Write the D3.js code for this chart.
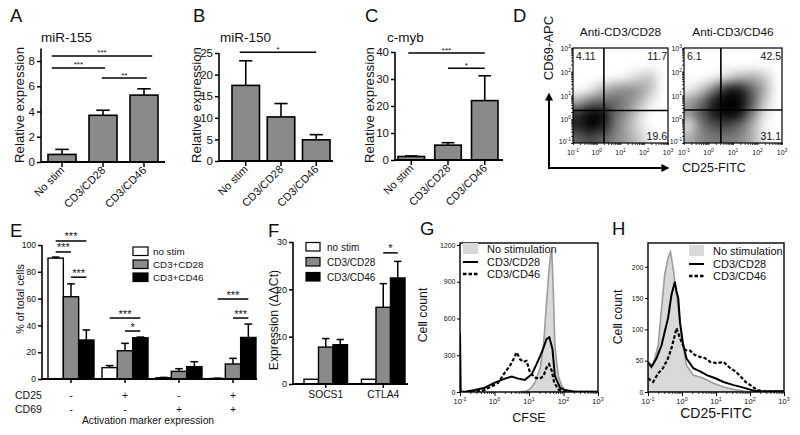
<!DOCTYPE html>
<html><head><meta charset="utf-8">
<script src="https://cdn.jsdelivr.net/npm/d3@7"></script>
<style>body{margin:0;background:#fff}</style>
</head><body>
<script>
// ================= DATA =================
const stimCats = ["No stim","CD3/CD28","CD3/CD46"];
const mir155 = [0.6, 3.7, 5.3];
const mir155Top = [1.0, 4.1, 5.8];
const mir150 = [17.5, 10.2, 4.9];
const mir150Top = [23.2, 13.3, 6.1];
const cmyb = [1.3, 5.5, 22.0];
const cmybTop = [1.5, 6.4, 31.2];
const mir155Ticks = [0,2,4,6,8];
const mir150Ticks = [0,5,10,15,20,25];
const cmybTicks = [0,10,20,30,40];
// significance bars: from/to are (fractional) category positions, level in data units
const mir155Sig = [{from:-0.25,to:2.2,level:8.4,label:"***"},{from:-0.25,to:1.05,level:7.45,label:"***"},{from:0.97,to:2.07,level:6.65,label:"**"}];
const mir150Sig = [{from:-0.17,to:2,level:25.2,label:"*"}];
const cmybSig = [{from:-0.08,to:2,level:39.6,label:"***"},{from:1,to:2,level:34,label:"*"}];

// Panel D (flow cytometry density, 8x8 bins over log10 -1..3; rows top->bottom)
const flowTitles = ["Anti-CD3/CD28","Anti-CD3/CD46"];
const flowQuad28 = ["4.11","11.7","19.6"];
const flowQuad46 = ["6.1","42.5","31.1"];
const flowBinEdges = [0.1, 0.316, 1, 3.16, 10, 31.6, 100, 316, 1000];
const flowGate28 = [2.0, 2.35];
const flowGate46 = [3.2, 2.45];
const density28 = [
 [0,0,0,0,0,0,0,0],
 [0,0,0,0,0,0,0,0],
 [0,0,0,0,0.05,0.15,0.22,0],
 [0,0.05,0.25,0.38,0.42,0.38,0.22,0],
 [0.3,0.5,0.55,0.55,0.45,0.3,0.08,0],
 [0.8,1.0,0.95,0.55,0.4,0.15,0,0],
 [0.85,1.0,0.9,0.5,0.3,0.1,0,0],
 [0.6,0.7,0.6,0.45,0.35,0.2,0.05,0]];
const density46 = [
 [0,0,0,0,0,0,0,0],
 [0,0,0,0,0,0,0,0],
 [0,0,0.03,0.12,0.25,0.3,0.22,0],
 [0.05,0.2,0.5,0.9,0.9,0.6,0.3,0],
 [0.35,0.55,0.9,1.0,1.0,0.65,0.2,0],
 [0.4,0.65,0.9,1.0,0.95,0.5,0.1,0],
 [0.1,0.5,0.65,0.7,0.55,0.3,0.02,0],
 [0.3,0.45,0.5,0.5,0.45,0.3,0.08,0]];

// Panel E
const markerGroups = ["--","+-","-+","++"];
const cd25Signs = ["-","+","-","+"];
const cd69Signs = ["-","-","+","+"];
const eSeriesNames = ["no stim","CD3+CD28","CD3+CD46"];
const eNoStim = [90.2, 8.5, 0.9, 0.4];
const eNoStimTop = [91.0, 10.0, 1.2, 0.6];
const eCD28 = [61.4, 21.1, 5.7, 11.2];
const eCD28Top = [71.0, 26.6, 7.7, 15.4];
const eCD46 = [29.1, 30.8, 9.2, 31.0];
const eCD46Top = [36.6, 31.3, 12.9, 41.0];
const eTicks = [0,20,40,60,80,100];
const eSig = [
 {group:0,from:0,to:2,level:103,label:"***"},
 {group:0,from:0,to:1,level:94.8,label:"***"},
 {group:0,from:1,to:2,level:76,label:"***"},
 {group:1,from:0,to:2,level:45.5,label:"***"},
 {group:1,from:1,to:2,level:35.8,label:"*"},
 {group:3,from:0,to:2,level:59.7,label:"***"},
 {group:3,from:1,to:2,level:45.5,label:"***"}];

// Panel F
const genes = ["SOCS1","CTLA4"];
const fSeriesNames = ["no stim","CD3/CD28","CD3/CD46"];
const fNoStim = [1.0, 1.0];
const fCD28 = [7.8, 16.2];
const fCD28Top = [9.6, 21.2];
const fCD46 = [8.3, 22.4];
const fCD46Top = [9.4, 25.9];
const fTicks = [0,10,20,30];
const fSig = [{group:1,from:1,to:2,level:27.7,label:"*"}];

// Panels G/H histograms: [log10 intensity, cell count]
const histLegend = ["No stimulation","CD3/CD28","CD3/CD46"];
const histDecades = [-1,0,1,2,3];
const cfseNoStim = [[0.7,0],[0.9,5],[1.05,30],[1.17,76],[1.32,190],[1.42,378],[1.51,734],[1.58,1000],[1.63,1130],[1.66,1145],[1.7,871],[1.75,378],[1.85,131],[1.95,49],[2.09,0],[3,0]];
const cfseCD28 = [[-1,480],[-0.98,2],[-0.8,5],[-0.57,16],[-0.28,35],[0.01,76],[0.3,109],[0.5,126],[0.69,109],[0.88,99],[1.08,145],[1.22,227],[1.37,323],[1.51,433],[1.59,446],[1.68,351],[1.75,131],[1.9,35],[2.04,16],[2.33,3],[3,2]];
const cfseCD46 = [[-1,0],[-0.5,5],[-0.28,16],[0.11,76],[0.3,159],[0.45,214],[0.55,268],[0.64,323],[0.74,268],[0.84,246],[0.93,254],[1.03,159],[1.17,118],[1.32,109],[1.42,131],[1.51,200],[1.58,227],[1.66,172],[1.73,76],[1.85,22],[1.99,2],[3,2]];
const cfseTicks = [0,300,600,900,1200];
const cd25NoStim = [[-1,46],[-0.85,43],[-0.7,75],[-0.6,134],[-0.51,187],[-0.41,214],[-0.34,224],[-0.26,198],[-0.16,155],[-0.06,112],[0.04,70],[0.13,43],[0.33,27],[0.63,22],[0.93,14],[1.22,8],[1.62,3],[2.01,0],[3,0]];
const cd25CD28 = [[-1,48],[-0.9,40],[-0.75,54],[-0.6,75],[-0.51,96],[-0.41,118],[-0.31,155],[-0.21,176],[-0.16,160],[-0.11,150],[-0.06,112],[0.02,80],[0.13,54],[0.33,38],[0.53,33],[0.73,27],[0.98,22],[1.22,16],[1.52,11],[1.81,7],[2.11,2],[2.4,1],[3,1]];
const cd25CD46 = [[-1,22],[-0.85,16],[-0.7,30],[-0.56,38],[-0.41,54],[-0.31,70],[-0.21,91],[-0.16,102],[-0.06,86],[0.09,67],[0.24,66],[0.38,59],[0.53,56],[0.68,54],[0.83,48],[1.03,46],[1.22,48],[1.42,38],[1.57,33],[1.72,25],[1.87,16],[2.01,11],[2.21,3],[2.41,1],[3,1]];
const cd25Ticks = [0,50,100,150,200];

// ================= RENDER =================
const FONT = "Helvetica, Arial, 'Liberation Sans', sans-serif";
const BAR_GRAY = "#8a8a8a";
const svg = d3.select("body").append("svg").attr("width",800).attr("height",435)
  .style("font-family",FONT).style("background","#fff");
const defs = svg.append("defs");
defs.append("filter").attr("id","blur").attr("x","-30%").attr("y","-30%").attr("width","160%").attr("height","160%")
  .append("feGaussianBlur").attr("stdDeviation",5.2);
const mk = defs.append("marker").attr("id","arrow").attr("viewBox","0 0 10 10").attr("refX",2).attr("refY",5)
  .attr("markerWidth",4).attr("markerHeight",4).attr("orient","auto").attr("markerUnits","strokeWidth");
mk.append("path").attr("d","M0,0L10,5L0,10Z").attr("fill","#000");

function label(x,y,str,size,anchor="start",rot=0){
  const t=svg.append("text").attr("x",x).attr("y",y).attr("font-size",size).attr("text-anchor",anchor).attr("fill","#111").text(str);
  if(rot) t.attr("transform",`rotate(${rot},${x},${y})`);
  return t;
}
function pow10(parent,x,y,exp,size,anchor){
  const t=parent.append("text").attr("x",x).attr("y",y).attr("font-size",size).attr("text-anchor",anchor).attr("fill","#111");
  t.append("tspan").text("10");
  t.append("tspan").attr("dy",-size*0.45).attr("font-size",size*0.7).text(exp);
  return t;
}
function styleAxis(g,fs,sw=1.5){
  g.selectAll("path.domain").remove();
  g.selectAll(".tick line").attr("stroke","#000").attr("stroke-width",sw);
  g.selectAll(".tick text").attr("font-size",fs).attr("font-family",FONT).attr("fill","#111");
}
function sigBar(g,x1,x2,yy,lab,fs){
  g.append("line").attr("x1",x1).attr("x2",x2).attr("y1",yy).attr("y2",yy).attr("stroke","#000").attr("stroke-width",1.5);
  g.append("text").attr("x",(x1+x2)/2).attr("y",yy-0.5).attr("text-anchor","middle").attr("font-size",fs).attr("fill","#111").text(lab);
}
const intFmt = d3.format("d");

// Panel letters
[["A",10,22],["B",193,22],["C",365,22],["D",513,22],["E",10,237],["F",268,237],["G",420,235],["H",612,235]]
  .forEach(([s,x,y])=>label(x,y,s,18.5));

// ---------- A, B, C ----------
function barPanel(o){
  const x=d3.scaleBand().domain(stimCats).range(o.barRange).paddingInner(o.pi).paddingOuter(0);
  const step=x.step(), bw=x.bandwidth();
  const cx=i=>x(stimCats[0])+bw/2+i*step;
  const y=d3.scaleLinear().domain([0,o.ymax]).range([o.y0,o.yTop]);
  const g=svg.append("g");
  g.selectAll("rect.bar").data(o.means).join("rect").attr("class","bar")
    .attr("x",(d,i)=>x(stimCats[i])).attr("y",d=>y(d)).attr("width",bw).attr("height",d=>y(0)-y(d))
    .attr("fill",BAR_GRAY).attr("stroke","#000").attr("stroke-width",1.6);
  o.means.forEach((m,i)=>{
    g.append("line").attr("x1",cx(i)).attr("x2",cx(i)).attr("y1",y(m)).attr("y2",y(o.tops[i])).attr("stroke","#000").attr("stroke-width",1.6);
    g.append("line").attr("x1",cx(i)-bw*0.24).attr("x2",cx(i)+bw*0.24).attr("y1",y(o.tops[i])).attr("y2",y(o.tops[i])).attr("stroke","#000").attr("stroke-width",1.6);
  });
  const ay=g.append("g").attr("transform",`translate(${o.axisX[0]},0)`).call(d3.axisLeft(y).tickValues(o.ticks).tickFormat(intFmt).tickSize(4).tickPadding(2));
  styleAxis(ay,11.5);
  g.append("line").attr("x1",o.axisX[0]).attr("x2",o.axisX[0]).attr("y1",y(0)).attr("y2",y(o.ymax)).attr("stroke","#000").attr("stroke-width",1.6);
  const ax=g.append("g").attr("transform",`translate(0,${o.y0})`).call(d3.axisBottom(x).tickSize(5).tickFormat(""));
  styleAxis(ax,10);
  g.append("line").attr("x1",o.axisX[0]).attr("x2",o.axisX[1]).attr("y1",o.y0).attr("y2",o.y0).attr("stroke","#000").attr("stroke-width",1.8);
  stimCats.forEach((c,i)=>label(cx(i)+3,o.y0+9,c,11,"end",-45));
  o.sig.forEach(s=>sigBar(g,cx(s.from),cx(s.to),y(s.level),s.label,8));
  label(o.axisX[0]+o.titleDx,42,o.title,13.5);
  label(o.ylabX,105,"Relative expression",13.3,"middle",-90);
}
barPanel({means:mir155,tops:mir155Top,ticks:mir155Ticks,ymax:9,y0:162,yTop:48.4,axisX:[41,165],barRange:[48,158],pi:0.317,sig:mir155Sig,title:"miR-155",titleDx:0,ylabX:24});
barPanel({means:mir150,tops:mir150Top,ticks:mir150Ticks,ymax:25,y0:161,yTop:53,axisX:[219,333],barRange:[232,330],pi:0.22,sig:mir150Sig,title:"miR-150",titleDx:1,ylabX:201});
barPanel({means:cmyb,tops:cmybTop,ticks:cmybTicks,ymax:40,y0:160,yTop:52,axisX:[395,503],barRange:[398,498],pi:0.279,sig:cmybSig,title:"c-myb",titleDx:-8,ylabX:374});

// ---------- D ----------
function flowPlot(o){
  const x=d3.scaleLog().domain([0.1,1000]).range([o.l,o.r]);
  const y=d3.scaleLog().domain([0.1,1000]).range([o.b,o.t]);
  const cid="clip"+o.id;
  defs.append("clipPath").attr("id",cid).append("rect").attr("x",o.l).attr("y",o.t).attr("width",o.r-o.l).attr("height",o.b-o.t);
  const g=svg.append("g").attr("clip-path",`url(#${cid})`);
  const gb=g.append("g").attr("filter","url(#blur)");
  const nb=flowBinEdges.length-1;
  o.grid.forEach((row,j)=>row.forEach((v,i)=>{
    const yHi=flowBinEdges[nb-j], yLo=flowBinEdges[nb-j-1];
    let h=y(yLo)-y(yHi), x0=x(flowBinEdges[i]), w=x(flowBinEdges[i+1])-x0;
    if(j===nb-1) h+=12;          // floor pile-up reaches the edge
    if(i===0){x0-=12;w+=12;}     // left pile-up reaches the edge
    gb.append("rect").attr("x",x0-0.5).attr("y",y(yHi)-0.5)
      .attr("width",w+1).attr("height",h+1)
      .attr("fill","#000").attr("fill-opacity",v);
  }));
  svg.append("line").attr("x1",x(o.gate[0])).attr("x2",x(o.gate[0])).attr("y1",o.t).attr("y2",o.b).attr("stroke","#000").attr("stroke-width",1.6);
  svg.append("line").attr("x1",o.l).attr("x2",o.r).attr("y1",y(o.gate[1])).attr("y2",y(o.gate[1])).attr("stroke","#000").attr("stroke-width",1.6);
  svg.append("rect").attr("x",o.l).attr("y",o.t).attr("width",o.r-o.l).attr("height",o.b-o.t).attr("fill","none").attr("stroke","#000").attr("stroke-width",1.2);
  const minor=[];[0.1,1,10,100].forEach(d=>{for(let k=1;k<10;k++)minor.push(k*d);});minor.push(1000);
  const ax=svg.append("g").attr("transform",`translate(0,${o.b})`).call(d3.axisBottom(x).tickValues(minor).tickSize(2).tickFormat(""));
  styleAxis(ax,6,0.8);
  const ay=svg.append("g").attr("transform",`translate(${o.l},0)`).call(d3.axisLeft(y).tickValues(minor).tickSize(2).tickFormat(""));
  styleAxis(ay,6,0.8);
  histDecades.forEach(e=>{
    pow10(svg,x(10**e),o.b+12,String(e),7,"middle");
    if(e>-1) pow10(svg,o.l-2,y(10**e)+3,String(e),7,"end");
    else pow10(svg,o.l-2,y(10**e)+1,String(e),7,"end");
  });
  label(o.l+3,60,o.quad[0],10.5,"start");
  label(o.r-1,60,o.quad[1],10.5,"end");
  label(o.r-1,140,o.quad[2],10.5,"end");
  label((o.l+o.r)/2,36,o.title,11.8,"middle");
}
flowPlot({id:"d1",l:573,r:668,t:48,b:143,grid:density28,gate:flowGate28,quad:flowQuad28,title:flowTitles[0]});
flowPlot({id:"d2",l:684,r:782,t:48,b:143,grid:density46,gate:flowGate46,quad:flowQuad46,title:flowTitles[1]});
svg.append("line").attr("x1",549).attr("x2",549).attr("y1",168).attr("y2",99).attr("stroke","#000").attr("stroke-width",2).attr("marker-end","url(#arrow)");
svg.append("line").attr("x1",548).attr("x2",663).attr("y1",168).attr("y2",168).attr("stroke","#000").attr("stroke-width",2).attr("marker-end","url(#arrow)");
label(553,48,"CD69-APC",13,"middle",-90);
label(682,172,"CD25-FITC",12.5,"start");

// ---------- E, F ----------
function groupedPanel(o){
  const gx=d3.scaleBand().domain(o.groups).range(o.barRange).paddingInner(o.pi).paddingOuter(0);
  const sx=d3.scaleBand().domain(o.seriesNames).range([0,gx.bandwidth()]);
  const y=d3.scaleLinear().domain([0,o.ymax]).range([o.y0,o.yTop]);
  const colors=["#fff",BAR_GRAY,"#000"];
  const g=svg.append("g");
  const bc=(gi,si)=>gx(o.groups[gi])+sx(o.seriesNames[si])+sx.bandwidth()/2;
  o.series.forEach((s,si)=>{
    g.selectAll(null).data(s.means).join("rect")
      .attr("x",(d,gi)=>gx(o.groups[gi])+sx(o.seriesNames[si])).attr("y",d=>y(d))
      .attr("width",sx.bandwidth()).attr("height",d=>y(0)-y(d))
      .attr("fill",colors[si]).attr("stroke","#000").attr("stroke-width",1.4);
    if(s.tops) s.means.forEach((m,gi)=>{
      const c=bc(gi,si), t=y(s.tops[gi]);
      g.append("line").attr("x1",c).attr("x2",c).attr("y1",y(m)).attr("y2",t).attr("stroke","#000").attr("stroke-width",1.5);
      g.append("line").attr("x1",c-sx.bandwidth()*0.25).attr("x2",c+sx.bandwidth()*0.25).attr("y1",t).attr("y2",t).attr("stroke","#000").attr("stroke-width",1.5);
    });
  });
  const ay=g.append("g").attr("transform",`translate(${o.axisX[0]},0)`).call(d3.axisLeft(y).tickValues(o.ticks).tickFormat(intFmt).tickSize(4).tickPadding(2));
  styleAxis(ay,o.tickFs);
  g.append("line").attr("x1",o.axisX[0]).attr("x2",o.axisX[0]).attr("y1",y(0)).attr("y2",y(o.ymax)).attr("stroke","#000").attr("stroke-width",1.6);
  const ax=g.append("g").attr("transform",`translate(0,${o.y0})`).call(d3.axisBottom(gx).tickSize(4).tickFormat(""));
  styleAxis(ax,10);
  g.append("line").attr("x1",o.axisX[0]).attr("x2",o.axisX[1]).attr("y1",o.y0).attr("y2",o.y0).attr("stroke","#000").attr("stroke-width",1.8);
  o.sig.forEach(s=>sigBar(g,bc(s.group,s.from),bc(s.group,s.to),y(s.level),s.label,o.sigFs));
  o.seriesNames.forEach((n,si)=>{
    g.append("rect").attr("x",o.leg.x).attr("y",o.leg.y+si*o.leg.dy).attr("width",o.leg.w).attr("height",8.5)
      .attr("fill",colors[si]).attr("stroke","#000").attr("stroke-width",1.2);
    label(o.leg.x+o.leg.tx,o.leg.y+si*o.leg.dy+8.3,n,o.leg.fs,"start");
  });
  return {gx,bc};
}
const E=groupedPanel({groups:markerGroups,seriesNames:eSeriesNames,
  series:[{means:eNoStim,tops:eNoStimTop},{means:eCD28,tops:eCD28Top},{means:eCD46,tops:eCD46Top}],
  barRange:[48,256],pi:0.148,axisX:[42,257],y0:379,yTop:245,ymax:100,ticks:eTicks,tickFs:8.5,sig:eSig,sigFs:11,
  leg:{x:133,y:247,dy:13,w:15,tx:20,fs:9.8}});
markerGroups.forEach((m,i)=>{
  const c=E.gx(m)+E.gx.bandwidth()/2;
  label(c,399,cd25Signs[i],10.5,"middle");
  label(c,413,cd69Signs[i],10.5,"middle");
});
label(15,399,"CD25",10.5);
label(15,413,"CD69",10.5);
label(148,424,"Activation marker expression",10.3,"middle");
label(24,299,"% of total cells",10.8,"middle",-90);

groupedPanel({groups:genes,seriesNames:fSeriesNames,
  series:[{means:fNoStim},{means:fCD28,tops:fCD28Top},{means:fCD46,tops:fCD46Top}],
  barRange:[304,405],pi:0.243,axisX:[293,408],y0:384,yTop:242,ymax:30,ticks:fTicks,tickFs:9,sig:fSig,sigFs:11,
  leg:{x:306,y:242.5,dy:15,w:14,tx:21,fs:10}});
const fx=d3.scaleBand().domain(genes).range([304,405]).paddingInner(0.243).paddingOuter(0);
genes.forEach(gn=>label(fx(gn)+fx.bandwidth()/2,398,gn,10.3,"middle"));
label(278,320,"Expression (\u0394\u0394Ct)",12.2,"middle",-90);

// ---------- G, H ----------
function histPanel(o){
  const x=d3.scaleLog().domain([0.1,1000]).range([o.l,o.r]);
  const y=d3.scaleLinear().domain([0,o.ymax]).range([o.b,o.t]);
  const cid="clip"+o.id;
  defs.append("clipPath").attr("id",cid).append("rect").attr("x",o.l).attr("y",o.t).attr("width",o.r-o.l).attr("height",o.b-o.t);
  const g=svg.append("g").attr("clip-path",`url(#${cid})`);
  const area=d3.area().x(p=>x(10**p[0])).y0(o.b).y1(p=>y(p[1]));
  const line=d3.line().x(p=>x(10**p[0])).y(p=>y(p[1]));
  g.append("path").datum(o.fill).attr("d",area).attr("fill","#d9d9d9").attr("stroke","#9c9c9c").attr("stroke-width",1.6);
  g.append("path").datum(o.dashed).attr("d",line).attr("fill","none").attr("stroke","#000").attr("stroke-width",2.2).attr("stroke-dasharray","3.5,2");
  g.append("path").datum(o.solid).attr("d",line).attr("fill","none").attr("stroke","#000").attr("stroke-width",2);
  svg.append("rect").attr("x",o.l).attr("y",o.t).attr("width",o.r-o.l).attr("height",o.b-o.t).attr("fill","none").attr("stroke","#000").attr("stroke-width",1.4);
  const ay=svg.append("g").attr("transform",`translate(${o.l},0)`).call(d3.axisLeft(y).tickValues(o.yticks).tickFormat(intFmt).tickSize(3).tickPadding(1.5));
  styleAxis(ay,7,1);
  const minor=[];[0.1,1,10,100].forEach(d=>{for(let k=2;k<10;k++)minor.push(k*d);});
  const ax1=svg.append("g").attr("transform",`translate(0,${o.b})`).call(d3.axisBottom(x).tickValues(minor).tickSize(2).tickFormat(""));
  styleAxis(ax1,6,0.8);
  const ax2=svg.append("g").attr("transform",`translate(0,${o.b})`).call(d3.axisBottom(x).tickValues(histDecades.map(e=>10**e)).tickSize(4).tickFormat(""));
  styleAxis(ax2,6,1);
  histDecades.forEach(e=>pow10(svg,x(10**e),o.b+12,String(e),7.5,"middle"));
  // legend
  const L=o.leg;
  svg.append("rect").attr("x",L.x).attr("y",L.y).attr("width",15).attr("height",11).attr("fill","#d9d9d9");
  svg.append("line").attr("x1",L.x).attr("x2",L.x+15).attr("y1",L.y+19).attr("y2",L.y+19).attr("stroke","#000").attr("stroke-width",2);
  svg.append("line").attr("x1",L.x).attr("x2",L.x+15).attr("y1",L.y+31).attr("y2",L.y+31).attr("stroke","#000").attr("stroke-width",2.4).attr("stroke-dasharray","3.5,2");
  histLegend.forEach((t,i)=>label(L.x+L.tx,L.y+10+i*12.5,t,11,"start"));
  label(o.ylabX,o.ylabY,"Cell count",12.3,"middle",-90);
  label((o.l+o.r)/2,o.xlabY,o.xlab,o.xlabFs,"middle");
}
histPanel({id:"g",l:460,r:598,t:243,b:392,ymax:1216,yticks:cfseTicks,fill:cfseNoStim,solid:cfseCD28,dashed:cfseCD46,
  leg:{x:463,y:243,tx:24},ylabX:427,ylabY:315,xlab:"CFSE",xlabY:422,xlabFs:12.5});
histPanel({id:"h",l:648,r:784,t:243,b:392,ymax:238,yticks:cd25Ticks,fill:cd25NoStim,solid:cd25CD28,dashed:cd25CD46,
  leg:{x:689,y:245,tx:24},ylabX:622,ylabY:317,xlab:"CD25-FITC",xlabY:418,xlabFs:14});
</script>
</body></html>
